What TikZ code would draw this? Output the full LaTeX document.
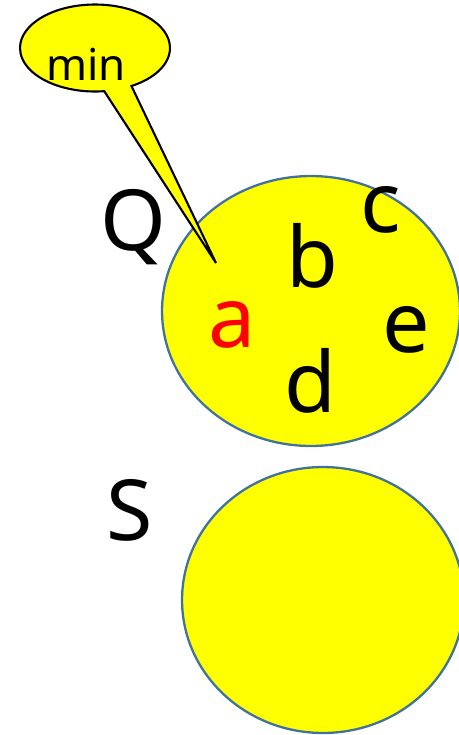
\documentclass[tikz,border=0pt]{standalone}
\usepackage{fontspec}
\setmainfont{Noto Sans}
\usetikzlibrary{shapes.geometric,shapes.callouts}
\definecolor{setline}{HTML}{41719C}
\definecolor{setfill}{HTML}{FFFF00}

\begin{document}
\begin{tikzpicture}[x=0.02cm,y=-0.02cm,
    setblob/.style={ellipse,draw=setline,fill=setfill,line width=1.3pt,inner sep=0pt},
    elem/.style={font=\fontsize{48}{48}\selectfont,inner sep=0pt,anchor=base}]
    \path[use as bounding box] (0,0) rectangle (459,735);

    % Sets
    \node[setblob,minimum width=5.96cm,minimum height=5.4cm] (Q) at (311,311) {};
    \node[setblob,minimum width=5.64cm,minimum height=5.32cm] (S) at (323,600) {};
    \node[elem] (Qname) at (133,250) {Q};
    \node[elem] (Sname) at (130,540) {S};

    % Elements of Q
    \node[elem,text=red] (a) at (232,347) {a};
    \node[elem] (b) at (312,287) {b};
    \node[elem] (c) at (381,232) {c};
    \node[elem] (d) at (310,412) {d};
    \node[elem] (e) at (406,352) {e};

    % Callout
    \coordinate (tip) at (216,263);
    \node[ellipse callout,draw=black,fill=setfill,line width=1.2pt,
        minimum width=3cm,minimum height=1.74cm,inner sep=0pt,
        callout pointer arc=22,
        callout absolute pointer={(tip)}] (bubble) at (95,48) {};
    \node[font=\fontsize{25}{25}\selectfont,inner sep=0pt,anchor=base]
        (minlabel) at (86,80) {min};
  \end{tikzpicture}
\end{document}
